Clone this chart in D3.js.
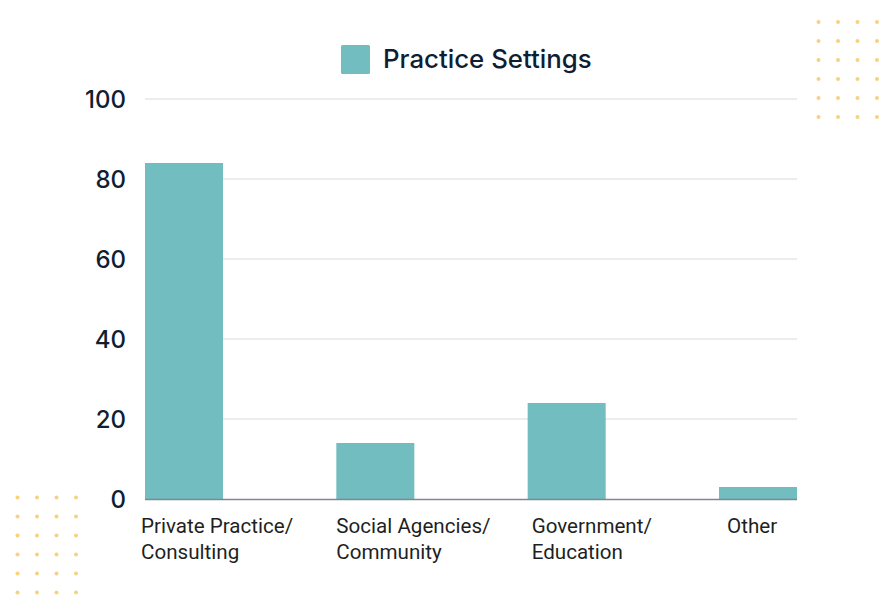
<!DOCTYPE html>
<html>
<head>
<meta charset="utf-8">
<script src="https://cdn.jsdelivr.net/npm/d3@7"></script>
<style>
  html, body { margin: 0; padding: 0; background: #ffffff; }
  svg { display: block; }
</style>
</head>
<body>
<script>
const categories = ["Private Practice/\nConsulting", "Social Agencies/\nCommunity", "Government/\nEducation", "Other"];
const values = [84, 14, 24, 3];
const yTicks = [0, 20, 40, 60, 80, 100];
const seriesName = "Practice Settings";
const dotCols = [0, 1, 2, 3];
const dotRows = [0, 1, 2, 3, 4, 5];

const W = 896, H = 612;
const svg = d3.select("body").append("svg").attr("width", W).attr("height", H);

const x = d3.scaleBand().domain(categories).range([145, 797]).paddingInner(0.5923).paddingOuter(0);
const xLabel = d3.scalePoint().domain(categories).range([141, 727]);
const y = d3.scaleLinear().domain([0, 100]).range([499, 99]);

// decorative dots
function dots(x0, y0) {
  const g = svg.append("g").attr("fill", "#f6d27c");
  const dx = d3.scaleLinear().domain([0, 3]).range([x0, x0 + 58.5]);
  const dy = d3.scaleLinear().domain([0, 5]).range([y0, y0 + 95]);
  dotRows.forEach(r => dotCols.forEach(c => {
    g.append("circle").attr("cx", dx(c)).attr("cy", dy(r)).attr("r", 2);
  }));
}
dots(818.5, 22);
dots(17.5, 497.5);

// gridlines
svg.append("g").selectAll("line").data(yTicks.filter(t => t > 0)).join("line")
  .attr("x1", 145).attr("x2", 797)
  .attr("y1", d => y(d)).attr("y2", d => y(d))
  .attr("stroke", "#d6d9dd").attr("stroke-width", 1.2);

// y axis
const yAxis = svg.append("g").attr("transform", "translate(126,0)")
  .call(d3.axisLeft(y).tickValues(yTicks).tickSize(0).tickPadding(0));
yAxis.select(".domain").remove();
yAxis.selectAll("text")
  .attr("font-family", "Inter, 'Noto Sans', sans-serif")
  .attr("font-size", 24).attr("font-weight", 500)
  .attr("fill", "#0f1e33").attr("dy", "0.36em");

// bars
svg.append("g").selectAll("rect").data(values).join("rect")
  .attr("x", (d, i) => x(categories[i]))
  .attr("y", d => y(d))
  .attr("width", x.bandwidth())
  .attr("height", d => y(0) - y(d))
  .attr("fill", "#72bdbf");

// baseline
svg.append("line").attr("x1", 145).attr("x2", 797).attr("y1", y(0) + 0.5).attr("y2", y(0) + 0.5)
  .attr("stroke", "#7f8892").attr("stroke-width", 1.3);

// category labels
const lab = svg.append("g").selectAll("text").data(categories).join("text")
  .attr("x", d => xLabel(d)).attr("y", 533)
  .attr("font-family", "Roboto, 'Noto Sans', sans-serif")
  .attr("font-size", 20.6).attr("fill", "#1f1f1f");
lab.each(function(d) {
  const lines = d.split("\n");
  d3.select(this).selectAll("tspan").data(lines).join("tspan")
    .attr("x", xLabel(d)).attr("dy", (l, i) => i === 0 ? 0 : 26).text(l => l);
});

// legend
svg.append("rect").attr("x", 341).attr("y", 45).attr("width", 29).attr("height", 29).attr("rx", 1.5)
  .attr("fill", "#72bdbf");
svg.append("text").attr("x", 383).attr("y", 68).text(seriesName)
  .attr("font-family", "Inter, 'Noto Sans', sans-serif")
  .attr("font-size", 25.8).attr("font-weight", 500).attr("fill", "#0f1e33");
</script>
</body>
</html>
